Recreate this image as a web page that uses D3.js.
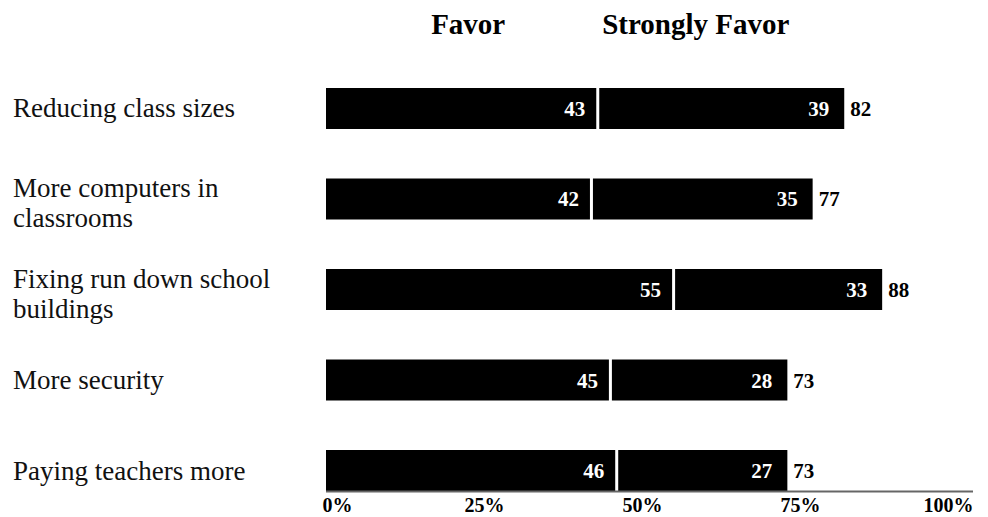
<!DOCTYPE html>
<html>
<head>
<meta charset="utf-8">
<script src="https://cdn.jsdelivr.net/npm/d3@7"></script>
<style>
  html, body { margin: 0; padding: 0; background: #fff; }
  svg { display: block; }
</style>
</head>
<body>
<svg id="chart" width="988" height="517"></svg>
<script>
// ---- data ----
const categories = [
  ["Reducing class sizes"],
  ["More computers in", "classrooms"],
  ["Fixing run down school", "buildings"],
  ["More security"],
  ["Paying teachers more"]
];
const favor = [43, 42, 55, 45, 46];
const stronglyFavor = [39, 35, 33, 28, 27];
const totals = [82, 77, 88, 73, 73];
const seriesNames = ["Favor", "Strongly Favor"];
const tickValues = [0, 25, 50, 75, 100];
const tickLabels = ["0%", "25%", "50%", "75%", "100%"];

// ---- layout ----
const svg = d3.select("#chart");
const left = 326, right = 958;
const x = d3.scaleLinear().domain([0, 100]).range([left, right]);
const y = d3.scaleBand().domain(d3.range(categories.length))
  .range([88, 491]).paddingInner(0.547).paddingOuter(0);
const bw = y.bandwidth();
const gap = 1.5;
const numFont = "'Liberation Serif', 'Times New Roman', serif";
const labelFont = "'Liberation Serif', 'Times New Roman', serif";

// headers
svg.append("text").attr("x", x(22.5)).attr("y", 34)
  .attr("text-anchor", "middle").attr("font-family", numFont)
  .attr("font-weight", "bold").attr("font-size", 29).attr("fill", "#000")
  .text(seriesNames[0]);
svg.append("text").attr("x", x(58.5)).attr("y", 34)
  .attr("text-anchor", "middle").attr("font-family", numFont)
  .attr("font-weight", "bold").attr("font-size", 29).attr("fill", "#000")
  .text(seriesNames[1]);

const rows = svg.append("g").selectAll("g.row")
  .data(categories.map((c, i) => ({ c, i, f: favor[i], s: stronglyFavor[i], t: totals[i] })))
  .join("g").attr("class", "row");

// category labels
rows.append("text")
  .attr("font-family", labelFont).attr("font-size", 27).attr("fill", "#111")
  .each(function(d) {
    const t = d3.select(this);
    const cy = y(d.i) + bw / 2;
    const n = d.c.length;
    d.c.forEach((line, k) => {
      const base = n === 1 ? cy + 9 : cy - 2 + k * 30;
      t.append("tspan").attr("x", 13).attr("y", base).text(line);
    });
  });

// favor segment
rows.append("rect")
  .attr("x", x(0)).attr("y", d => y(d.i))
  .attr("width", d => x(d.f) - x(0) - gap).attr("height", bw)
  .attr("fill", "#000");
// strongly favor segment
rows.append("rect")
  .attr("x", d => x(d.f) + gap).attr("y", d => y(d.i))
  .attr("width", d => x(d.f + d.s) - x(d.f) - gap).attr("height", bw)
  .attr("fill", "#000");

// inner labels
rows.append("text")
  .attr("x", d => x(d.f) - gap - 11).attr("y", d => y(d.i) + bw / 2 + 7.5)
  .attr("text-anchor", "end").attr("font-family", numFont)
  .attr("font-weight", "bold").attr("font-size", 21).attr("fill", "#fff")
  .text(d => d.f);
rows.append("text")
  .attr("x", d => x(d.f + d.s) - 15).attr("y", d => y(d.i) + bw / 2 + 7.5)
  .attr("text-anchor", "end").attr("font-family", numFont)
  .attr("font-weight", "bold").attr("font-size", 21).attr("fill", "#fff")
  .text(d => d.s);
// totals
rows.append("text")
  .attr("x", d => x(d.f + d.s) + 6).attr("y", d => y(d.i) + bw / 2 + 7.5)
  .attr("text-anchor", "start").attr("font-family", numFont)
  .attr("font-weight", "bold").attr("font-size", 21).attr("fill", "#000")
  .text(d => d.t);

// axis
const axisY = y(categories.length - 1) + bw;
const axis = d3.axisBottom(x).tickValues(tickValues)
  .tickFormat((d, i) => tickLabels[i]).tickSize(0).tickPadding(7);
const ag = svg.append("g").attr("transform", `translate(0,${axisY})`).call(axis);
ag.select(".domain").remove();
ag.insert("line", ":first-child")
  .attr("x1", x(0)).attr("x2", x(100) + 15).attr("y1", 0.5).attr("y2", 0.5)
  .attr("stroke", "#666").attr("stroke-width", 2);
ag.selectAll(".tick text")
  .attr("font-family", numFont).attr("font-weight", "bold")
  .attr("font-size", 20).attr("fill", "#000")
  .attr("dy", "0.71em")
  .attr("text-anchor", (d, i) => i === 0 ? "start" : (i === tickValues.length - 1 ? "end" : "middle"))
  .attr("dx", (d, i) => i === 0 ? -4 : (i === tickValues.length - 1 ? 15 : 0));
</script>
</body>
</html>
